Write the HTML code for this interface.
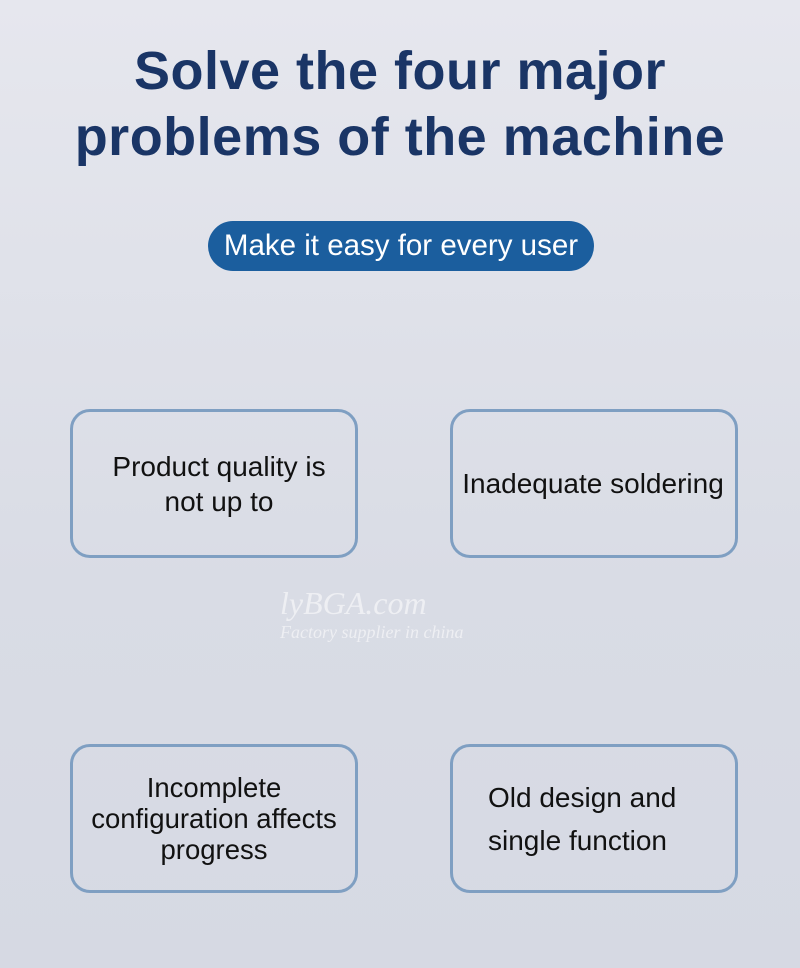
<!DOCTYPE html>
<html><head><style>
body{margin:0;width:800px;height:968px;overflow:hidden;background:linear-gradient(180deg,#e6e7ee 0%,#d9dce5 60%,#d6d9e3 100%);font-family:"Liberation Sans","DejaVu Sans",sans-serif;position:relative}
.t{position:absolute;left:0;width:800px;text-align:center;color:#1a3566;font-weight:bold;font-size:54px;letter-spacing:0.5px}
.pill{position:absolute;left:208px;top:221px;width:386px;height:50px;border-radius:25px;background:#1b5e9e;color:#fff;font-size:29.5px;line-height:50px;text-align:center}
.b{position:absolute;width:282px;height:143px;border:3px solid #7f9fc2;border-radius:20px;display:flex;align-items:center;justify-content:center;text-align:center;font-size:28px;color:#111;line-height:35px;white-space:nowrap}
.wm{position:absolute;left:280px;top:585px;color:rgba(255,255,255,0.55);font-style:italic;font-family:"Liberation Serif",serif}
</style></head><body>
<div class="t" style="top:40px">Solve the four major</div>
<div class="t" style="top:106px">problems of the machine</div>
<div class="pill">Make it easy for every user</div>
<div class="b" style="left:70px;top:409px"><div style="margin-left:10px">Product quality is<br>not up to</div></div>
<div class="b" style="left:450px;top:409px"><div style="margin-left:-2px">Inadequate soldering</div></div>
<div class="b" style="left:70px;top:744px;line-height:31px;font-size:27.5px">Incomplete<br>configuration affects<br>progress</div>
<div class="b" style="left:450px;top:744px;line-height:43px;justify-content:flex-start;text-align:left"><div style="margin-left:35px">Old design and<br>single function</div></div>
<div class="wm"><div style="font-size:32px">lyBGA.com</div><div style="font-size:18px">Factory supplier in china</div></div>
</body></html>
